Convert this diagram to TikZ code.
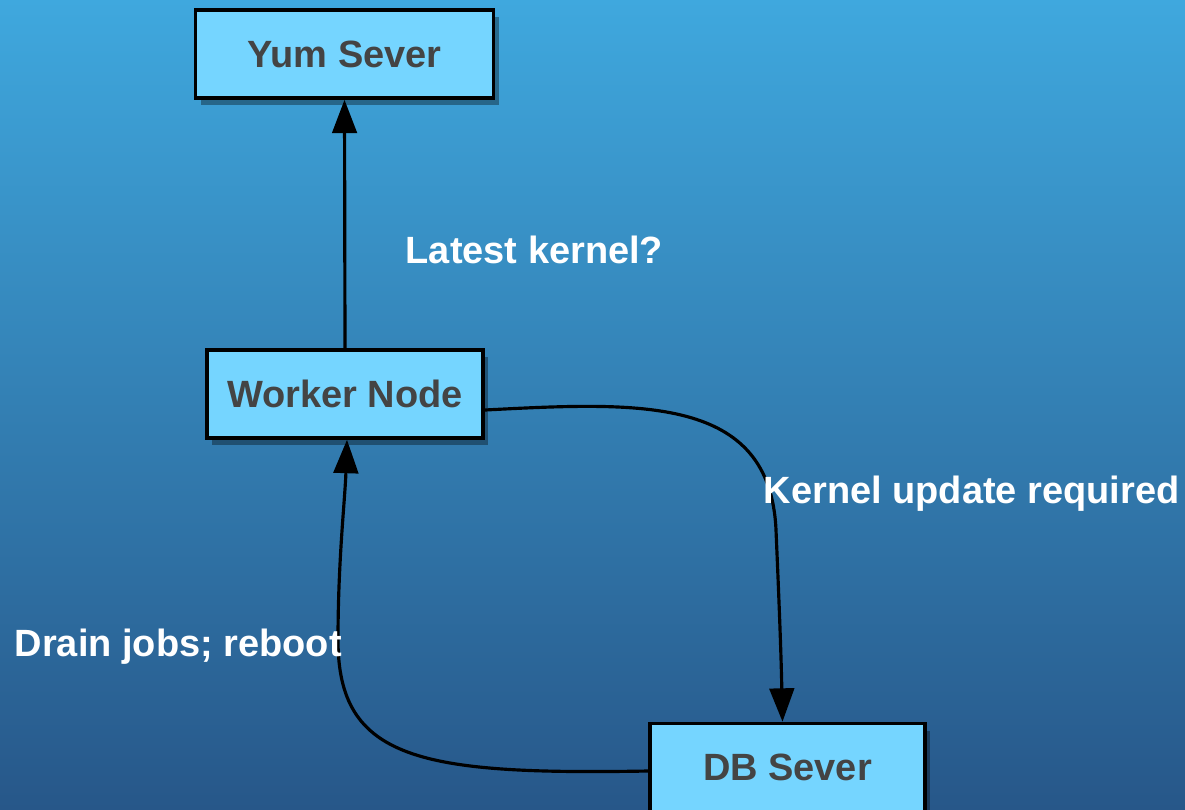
\documentclass[tikz,border=0pt]{standalone}
\usepackage{fontspec}
\setmainfont{Liberation Sans}
\usepackage{tikz}
\usetikzlibrary{arrows.meta, positioning, shadows}
\definecolor{bgtop}{HTML}{3FA8DE}
\definecolor{bgbottom}{HTML}{275789}
\definecolor{boxfill}{HTML}{75D5FF}
\definecolor{boxtext}{HTML}{444444}

\begin{document}
\begin{tikzpicture}[x=0.01cm,y=-0.01cm,font=\fontsize{10.8pt}{13pt}\selectfont\bfseries,
    server/.style={draw=black,line width=1pt,fill=boxfill,text=boxtext,minimum height=0.88cm,
      drop shadow={shadow xshift=1.5pt,shadow yshift=-2pt,opacity=.35,fill=black}},
    msg/.style={text=white,inner sep=0pt,anchor=base west},
    flow/.style={line width=0.9pt,-{Triangle[length=9.5pt,width=7pt]}}]
    \useasboundingbox (0,0) rectangle (1185,809);
    \clip (0,0) rectangle (1185,809);
    \shade[top color=bgtop,bottom color=bgbottom] (0,0) rectangle (1185,809);
    \node[server,minimum width=2.98cm] (yum) at (344.5,54) {Yum Sever};
    \node[server,minimum width=2.76cm] (worker) at (345,394) {Worker Node};
    \node[server,minimum width=2.75cm] (db) at (787.5,767.5) {DB Sever};
    \draw[flow] (worker.north) -- (yum.south);
    \draw[flow] ([yshift=-0.16cm]worker.east) .. controls (640,402) and (770,395) .. (776,530)
      .. controls (779,600) and (781,650) .. ([xshift=-0.05cm]db.north);
    \draw[flow] ([yshift=-0.035cm]db.west) .. controls (420,775) and (338,760) .. (338,640)
      .. controls (338,560) and (345,500) .. ([xshift=0.02cm]worker.south);
    \node[msg] (latest) at (405,263) {Latest kernel?};
    \node[msg] (update) at (763,503) {Kernel update required};
    \node[msg] (drain) at (14,656) {Drain jobs; reboot};
  \end{tikzpicture}
\end{document}
